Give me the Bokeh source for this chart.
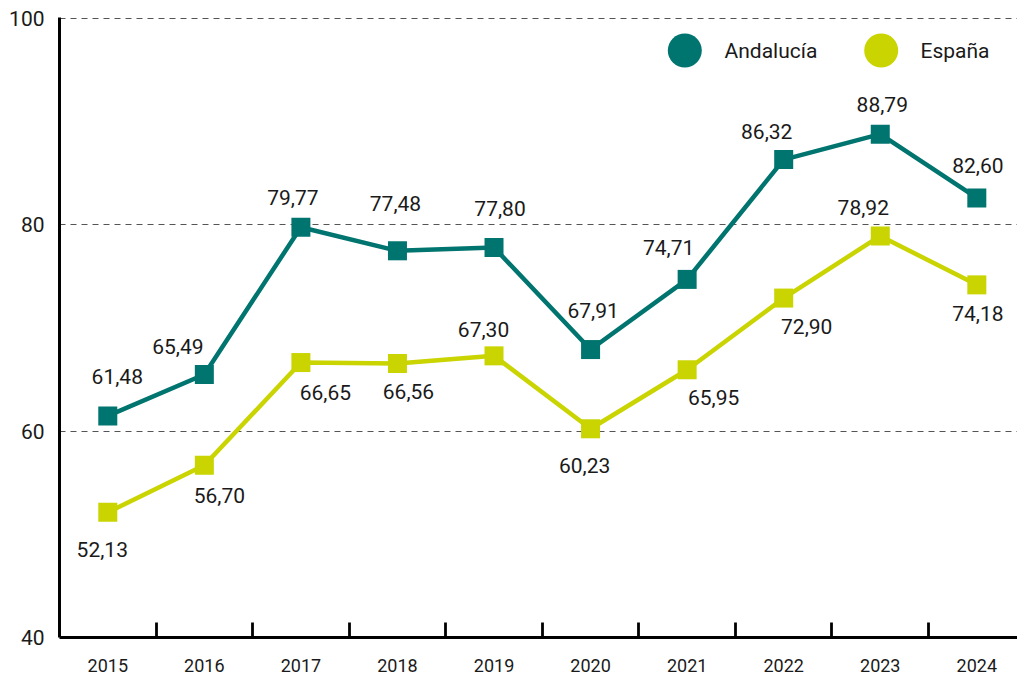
from bokeh.plotting import figure
from bokeh.models import Range1d, FixedTicker, ColumnDataSource
from bokeh.core.properties import value
from bokeh.embed import file_html
from bokeh.resources import INLINE

# ---- data ----
years = ["2015", "2016", "2017", "2018", "2019", "2020", "2021", "2022", "2023", "2024"]
andalucia = [61.48, 65.49, 79.77, 77.48, 77.80, 67.91, 74.71, 86.32, 88.79, 82.60]
espana = [52.13, 56.70, 66.65, 66.56, 67.30, 60.23, 65.95, 72.90, 78.92, 74.18]
y_ticks = [40, 60, 80, 100]
series_names = ["Andalucía", "España"]

# ---- label placement (styling, screen px) ----
and_dx = [9.5, -26.5, -8, -2, 6, 2.5, -18.5, -17, 2, 1]
and_dy = [-39.5, -28.5, -29.5, -47, -39, -39, -31.5, -28, -30, -32]
esp_dx = [-5.5, 15, 24.5, 11, -10.5, -6, 26.5, 23, -17, 1]
esp_dy = [37.5, 30, 29.5, 28.5, -26.5, 36.5, 28, 28.5, -28, 29]

TEAL = "#00746F"
LIME = "#C9D400"
FONT = "Roboto"
TXT = "#1a1a1a"

W, H = 1017, 679
LEFT, TOP, BOTTOM = 59, 17, 42
FRAME_W = W - LEFT
FRAME_H = H - TOP - BOTTOM
PX_PER_CAT = 96.56
PX_PER_UNIT = 10.317

xs = list(range(len(years)))

def fmt(v):
    return f"{v:.2f}".replace(".", ",")

y0 = y_ticks[0]
p = figure(width=W, height=H, output_backend="svg", toolbar_location=None,
           x_range=Range1d(-0.5, -0.5 + FRAME_W / PX_PER_CAT),
           y_range=Range1d(y0, y0 + FRAME_H / PX_PER_UNIT),
           min_border_left=LEFT, min_border_right=0, min_border_top=TOP, min_border_bottom=BOTTOM)
p.outline_line_color = None
p.background_fill_color = "white"
p.border_fill_color = "white"

# grid
p.xgrid.visible = False
p.ygrid.ticker = FixedTicker(ticks=y_ticks[1:])
p.ygrid.grid_line_color = "#555555"
p.ygrid.grid_line_dash = "6 5"
p.ygrid.grid_line_width = 1.2

# y axis
p.yaxis.ticker = FixedTicker(ticks=y_ticks)
p.yaxis.axis_line_width = 3
p.yaxis.axis_line_color = "black"
p.yaxis.major_tick_line_color = None
p.yaxis.minor_tick_line_color = None
p.yaxis.major_tick_in = 0
p.yaxis.major_tick_out = 0
p.yaxis.major_label_standoff = 15
p.yaxis.major_label_text_font = FONT
p.yaxis.major_label_text_font_size = "21px"
p.yaxis.major_label_text_color = TXT

# x axis
p.xaxis.ticker = FixedTicker(ticks=xs, minor_ticks=[i + 0.5 for i in xs])
p.xaxis.major_label_overrides = {i: years[i] for i in xs}
p.xaxis.axis_line_width = 2.8
p.xaxis.axis_line_color = "black"
p.xaxis.major_tick_line_color = None
p.xaxis.major_tick_in = 0
p.xaxis.major_tick_out = 0
p.xaxis.minor_tick_line_color = "black"
p.xaxis.minor_tick_line_width = 2.8
p.xaxis.minor_tick_in = 15
p.xaxis.minor_tick_out = 0
p.xaxis.major_label_standoff = 21
p.xaxis.major_label_text_font = FONT
p.xaxis.major_label_text_font_size = "18px"
p.xaxis.major_label_text_color = TXT

# series
for vals, color, dx, dy in [(andalucia, TEAL, and_dx, and_dy), (espana, LIME, esp_dx, esp_dy)]:
    src = ColumnDataSource(dict(x=xs, y=vals, lab=[fmt(v) for v in vals], dx=dx, dy=dy))
    p.line("x", "y", source=src, line_color=color, line_width=4.5)
    p.scatter("x", "y", source=src, marker="square", size=19, fill_color=color, line_color=color, line_width=0)
    p.text("x", "y", text="lab", source=src, x_offset="dx", y_offset="dy",
           text_align="center", text_baseline="middle", text_font=value(FONT),
           text_font_size="21px", text_color=TXT)

# legend drawn in frame pixel space (origin at frame top-left)
p.extra_x_ranges = {"px": Range1d(0, FRAME_W)}
p.extra_y_ranges = {"px": Range1d(FRAME_H, 0)}
leg = ColumnDataSource(dict(cx=[625.3, 821.7], cy=[33, 33], tx=[665, 861], ty=[33, 33],
                            name=series_names, color=[TEAL, LIME]))
p.scatter("cx", "cy", source=leg, size=34, marker="circle", fill_color="color", line_color=None,
          x_range_name="px", y_range_name="px")
p.text("tx", "ty", text="name", source=leg, text_align="left", text_baseline="middle",
       text_font=value(FONT), text_font_size="21px", text_color=TXT,
       x_range_name="px", y_range_name="px")

open("out.html", "w").write(file_html(p, INLINE))
